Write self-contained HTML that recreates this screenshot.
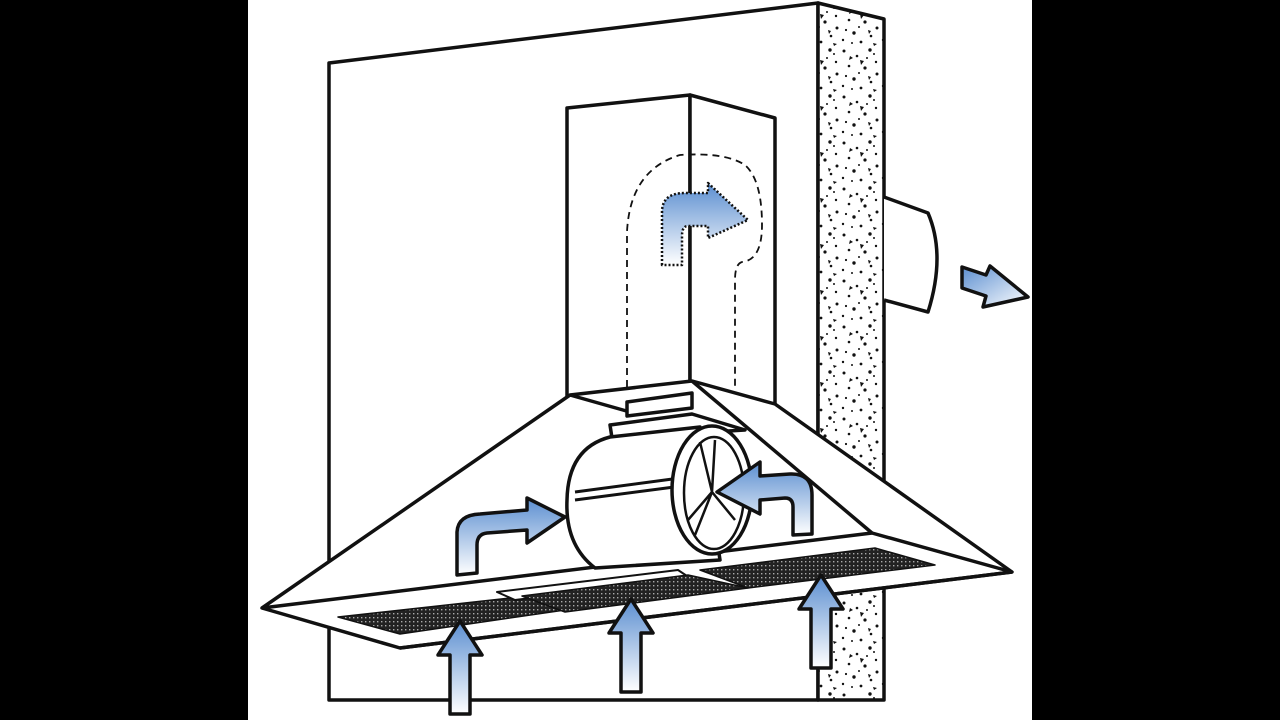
<!DOCTYPE html>
<html><head><meta charset="utf-8"><style>
html,body{margin:0;padding:0;background:#000;}
svg{display:block}
</style></head><body>
<svg width="1280" height="720" viewBox="0 0 1280 720" xmlns="http://www.w3.org/2000/svg">
<defs>
<linearGradient id="gv" x1="0" y1="0" x2="0" y2="1">
<stop offset="0" stop-color="#5b8ed0"/><stop offset="1" stop-color="#ffffff"/></linearGradient>
<linearGradient id="gx" x1="0" y1="0" x2="1" y2="1">
<stop offset="0" stop-color="#5b8ed0"/><stop offset="1" stop-color="#ffffff"/></linearGradient>
<pattern id="perf" width="4" height="4" patternUnits="userSpaceOnUse">
<rect width="4" height="4" fill="#222"/><rect x="1" y="1" width="1.4" height="1.4" fill="#aaa"/></pattern>
<pattern id="speck" width="40" height="46" patternUnits="userSpaceOnUse">
<rect width="40" height="46" fill="#fff"/>
<g fill="#111">
<circle cx="4" cy="5" r="1.5"/><circle cx="17" cy="10" r="1.3"/><circle cx="30" cy="4" r="1.7"/><circle cx="9" cy="20" r="1.3"/>
<circle cx="25" cy="22" r="1.6"/><circle cx="36" cy="16" r="1.2"/><circle cx="14" cy="33" r="1.7"/><circle cx="31" cy="36" r="1.3"/>
<circle cx="3" cy="40" r="1.2"/><circle cx="21" cy="42" r="1.4"/><circle cx="37" cy="28" r="1.5"/><circle cx="6" cy="30" r="1.1"/>
<circle cx="27" cy="12" r="1"/><circle cx="12" cy="43" r="1"/><circle cx="34" cy="8" r="1"/><circle cx="19" cy="27" r="1"/>
<polygon points="20,14 24,15 21,19"/><polygon points="33,43 37,44 34,46"/><polygon points="10,10 13,12 9,14"/><polygon points="28,30 31,31 29,34"/>
</g></pattern>
</defs>
<rect x="0" y="0" width="1280" height="720" fill="#000"/>
<rect x="248" y="0" width="784" height="720" fill="#fff"/>
<g stroke="#111" stroke-width="3.5" stroke-linejoin="round" fill="none">
<polygon points="329,63 818,3 818,700 329,700" fill="#fff"/>
<polygon points="818,3 884,19 884,700 818,700" fill="url(#speck)"/>
<path d="M884,197 L928,213 Q946,255 928,312 L884,300" fill="#fff"/>
<polygon points="962,267 986,275 990,266 1028,297 983,307 986,296 962,288" fill="url(#gx)"/>
<polygon points="567,108 690,95 690,384 567,397" fill="#fff"/>
<polygon points="690,95 775,118 775,408 690,384" fill="#fff"/>
<path d="M627,387 L627,232 Q630,170 680,155 Q725,152 745,165 Q762,180 762,225 Q762,260 742,262 Q735,264 735,280 L735,387" stroke-width="1.8" stroke-dasharray="7,5"/>
<path d="M662,265 L662,212 Q662,193 685,193 L708,193 L708,183 L748,220 L708,238 L708,226 L688,226 Q682,226 682,236 L682,265 Z" fill="url(#gv)" stroke-width="2.5" stroke-dasharray="2,2"/>
<polygon points="262,608 570,395 692,381 775,404 1012,572 400,648" fill="#fff"/>
<line x1="692" y1="381" x2="872" y2="533"/>
<line x1="262" y1="608" x2="872" y2="533"/>
<line x1="872" y1="533" x2="1012" y2="572"/>
<polyline points="400,648 1012,572"/>
<line x1="570" y1="395" x2="630" y2="412"/>
<polygon points="627,402 692,393 692,408 627,416" fill="#fff"/>
<polygon points="610,425 692,414 745,430 612,438" fill="#fff"/>
<path d="M610,437 L700,427 L720,560 L595,568 Q565,545 567,500 Q568,448 610,437 Z" fill="#fff"/>
<path d="M575,492 L680,478 M575,500 L682,486" stroke-width="3"/>
<ellipse cx="712" cy="490" rx="40" ry="64" fill="#fff"/>
<ellipse cx="714" cy="493" rx="30" ry="56" stroke-width="2.5"/>
<path d="M712,492 L700,442 M712,492 L715,440 M712,492 L688,520 M712,492 L695,535 M712,492 L735,520" stroke-width="2.5"/>
<polygon points="338,617 528,596 565,610 400,634" fill="url(#perf)" stroke-width="1.5"/>
<polygon points="497,592 678,570 690,578 515,600" fill="#fff" stroke-width="2"/>
<polygon points="522,596 688,575 748,588 565,612" fill="url(#perf)" stroke-width="1.5"/>
<polygon points="700,570 875,548 935,565 748,588" fill="url(#perf)" stroke-width="1.5"/>
<path d="M457,575 L457,532 Q458,515 480,514 L527,510 L527,498 L565,517 L527,543 L527,530 L487,533 Q477,534 477,545 L477,573 Z" fill="url(#gv)"/>
<path d="M812,534 L812,495 Q812,473 790,474 L760,476 L760,462 L717,492 L760,514 L760,500 L785,498 Q793,498 793,507 L793,535 Z" fill="url(#gv)"/>
<polygon points="460,621 482,655 470,655 470,714 450,714 450,655 438,655" fill="url(#gv)"/>
<polygon points="631,599 653,633 641,633 641,692 621,692 621,633 609,633" fill="url(#gv)"/>
<polygon points="821,575 843,609 831,609 831,668 811,668 811,609 799,609" fill="url(#gv)"/>
</g>
</svg>
</body></html>
